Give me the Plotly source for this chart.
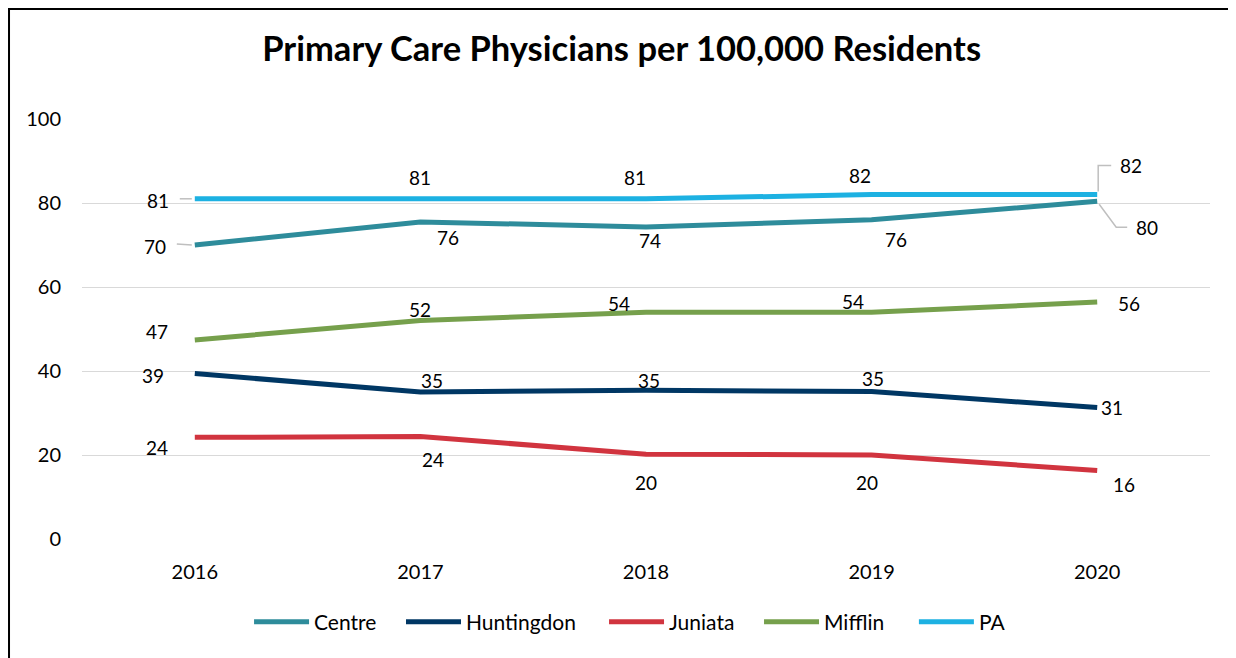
import plotly.graph_objects as go

# ---- data ----
years = ["2016", "2017", "2018", "2019", "2020"]
series_names = ["Centre", "Huntingdon", "Juniata", "Mifflin", "PA"]
centre = [70.0, 75.5, 74.3, 76.0, 80.4]
huntingdon = [39.4, 35.0, 35.4, 35.1, 31.3]
juniata = [24.2, 24.4, 20.2, 20.0, 16.3]
mifflin = [47.4, 52.0, 54.0, 54.0, 56.4]
pa = [81.0, 81.0, 81.0, 82.0, 82.0]
y_ticks = [0, 20, 40, 60, 80, 100]
title_text = "Primary Care Physicians per 100,000 Residents"

values = [centre, huntingdon, juniata, mifflin, pa]

# ---- styles ----
colors = ["#2E8C9B", "#003764", "#D1343F", "#76A04C", "#1DB1E2"]
FONT = "Lato"
# label offsets in pixels (dx, dy up) per series per year
label_offsets = [
    [(-40, -1), (28, -16), (4, -14), (24, -20), (50, -26)],
    [(-42, -2), (12, 12), (3, 10), (1, 13), (15, 0)],
    [(-38, -10), (13, -23), (0, -28), (-5, -27), (27, -14)],
    [(-38, 8), (0, 11), (-27, 9), (-19, 11), (32, -1)],
    [(-37, -2), (0, 21), (-11, 21), (-12, 19), (34, 29)],
]
# legend entry positions (paper x)
legend_x = [0.1481, 0.2828, 0.4628, 0.6002, 0.7375]
legend_ids = ["legend", "legend2", "legend3", "legend4", "legend5"]

fig = go.Figure()
for name, vals, col, lid in zip(series_names, values, colors, legend_ids):
    fig.add_trace(go.Scatter(
        x=years, y=vals, name=name, mode="lines",
        line=dict(color=col, width=5), legend=lid,
    ))

annotations = []
for s, vals in enumerate(values):
    for i, v in enumerate(vals):
        dx, dy = label_offsets[s][i]
        annotations.append(dict(
            x=i, y=v, xref="x", yref="y", text=f"{v:.0f}",
            showarrow=False, xshift=dx, yshift=dy,
            font=dict(family=FONT, size=19, color="#000000"),
        ))

lead = dict(color="#BFBFBF", width=1.5)
first, last = 0, len(years) - 1
shapes = [
    # chart border
    dict(type="rect", xref="paper", yref="paper", x0=-0.0647, x1=1.05,
         y0=-0.35, y1=1.2619, line=dict(color="#000000", width=2),
         layer="below"),
    # leader lines
    dict(type="path", xref="x", yref="y", xsizemode="pixel", ysizemode="pixel",
         xanchor=first, yanchor=pa[first], path="M -3 0 L -15 0", line=lead),
    dict(type="path", xref="x", yref="y", xsizemode="pixel", ysizemode="pixel",
         xanchor=first, yanchor=centre[first], path="M -3 0 L -18 1", line=lead),
    dict(type="path", xref="x", yref="y", xsizemode="pixel", ysizemode="pixel",
         xanchor=last, yanchor=pa[last], path="M 1 3 L 1 29 L 14 29", line=lead),
    dict(type="path", xref="x", yref="y", xsizemode="pixel", ysizemode="pixel",
         xanchor=last, yanchor=centre[last], path="M 2 -3 L 19 -26 L 30 -26", line=lead),
]

legend_style = dict(orientation="h", xanchor="left", y=-0.198, yanchor="middle",
                    font=dict(family=FONT, size=21, color="#000000"),
                    itemwidth=55, bgcolor="rgba(0,0,0,0)")
legends = {lid: dict(legend_style, x=lx) for lid, lx in zip(legend_ids, legend_x)}

fig.update_layout(
    width=1236, height=658,
    margin=dict(l=74, r=34, t=111, b=127),
    paper_bgcolor="white", plot_bgcolor="white",
    font=dict(family=FONT, size=18, color="#000000"),
    title=dict(text=f"<b>{title_text}</b>", x=0.4965, xanchor="center",
               y=0.938, yanchor="middle", yref="container",
               font=dict(family=FONT, size=34.5, color="#000000")),
    xaxis=dict(type="category", range=[-0.5, len(years) - 0.5],
               showgrid=False, zeroline=False, showline=False,
               ticks="", tickfont=dict(family=FONT, size=20, color="#000000"),
               ticklabelstandoff=19),
    yaxis=dict(range=[0, 100], tickvals=y_ticks, showgrid=True,
               gridcolor="#D9D9D9", gridwidth=1, zeroline=False, showline=False,
               ticks="", tickfont=dict(family=FONT, size=20, color="#000000"),
               ticklabelstandoff=20),
    annotations=annotations,
    shapes=shapes,
    showlegend=True,
    **legends,
)

fig.write_html("out.html")
